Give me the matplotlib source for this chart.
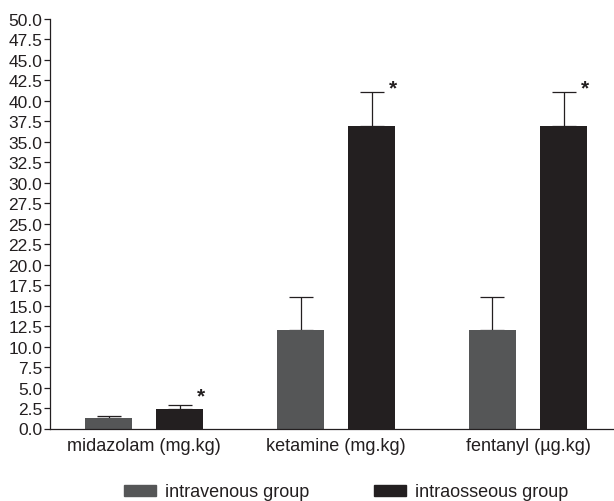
import matplotlib
matplotlib.use("Agg")
import matplotlib.pyplot as plt
import numpy as np
from matplotlib.patches import Patch

categories = ["midazolam (mg.kg)", "ketamine (mg.kg)", "fentanyl (\u00b5g.kg)"]
iv_values = [1.25, 12.0, 12.0]
iv_err = [0.3, 4.1, 4.1]
io_values = [2.35, 36.95, 36.95]
io_err = [0.55, 4.1, 4.1]
series_labels = ["intravenous group", "intraosseous group"]
star_y = [4.0, 41.6, 41.6]
yticks = np.arange(0, 50.01, 2.5)

plt.rcParams['font.family'] = ['Liberation Sans', 'DejaVu Sans']
TXT = '#231f20'
IV_C = '#555657'
IO_C = '#231f20'

fig = plt.figure(figsize=(6.14, 5.02), dpi=100)
ax = fig.add_axes([50/614, 1-429.5/502, 1-50/614, (429.5-20)/502])

x = np.arange(len(categories))
w = 0.245
off = 0.185
ax.bar(x - off, iv_values, w, color=IV_C, zorder=2)
ax.bar(x + off, io_values, w, color=IO_C, zorder=2)
ekw = dict(fmt='none', ecolor=TXT, elinewidth=0.9, capsize=8.3, capthick=0.9, zorder=1)
ax.errorbar(x - off, iv_values, yerr=[np.zeros(3), iv_err], **ekw)
ax.errorbar(x + off, io_values, yerr=[np.zeros(3), io_err], **ekw)

for xi, sy in zip(x + off + w/2 - 0.01, star_y):
    ax.text(xi, sy, '*', ha='center', va='center', fontsize=15, fontweight='bold', color=TXT)

ax.set_xlim(-0.49, 2.448)
ax.set_ylim(0, 50)
ax.set_yticks(yticks)
ax.set_yticklabels([f"{v:.1f}" for v in yticks])
ax.set_xticks(x)
ax.set_xticklabels(categories)
ax.tick_params(axis='y', length=4, width=0.9, color=TXT, labelcolor=TXT, labelsize=12.5, pad=1.5)
ax.tick_params(axis='x', length=0, labelcolor=TXT, labelsize=13, pad=6)
for s in ['top', 'right']:
    ax.spines[s].set_visible(False)
for s in ['left', 'bottom']:
    ax.spines[s].set_color(TXT)
    ax.spines[s].set_linewidth(0.9)

handles = [Patch(color=IV_C), Patch(color=IO_C)]
fig.legend(handles, series_labels, loc='center', bbox_to_anchor=(346/614, 1-493/502),
           ncol=2, frameon=False, fontsize=13, handlelength=1.78, handleheight=0.55,
           handletextpad=0.5, columnspacing=3.6, labelcolor=TXT, borderpad=0, borderaxespad=0)

fig.savefig("out.png", dpi=100)
